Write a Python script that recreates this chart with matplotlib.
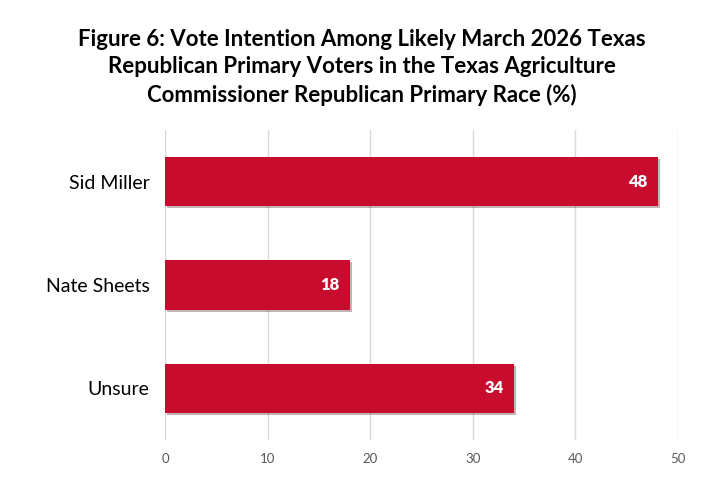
import matplotlib.pyplot as plt
import matplotlib.patheffects as pe

# data
candidates = ['Sid Miller', 'Nate Sheets', 'Unsure']
shares = [48, 18, 34]
ticks = [0, 10, 20, 30, 40, 50]

title = ('Figure 6: Vote Intention Among Likely March 2026 Texas\n'
         'Republican Primary Voters in the Texas Agriculture\n'
         'Commissioner Republican Primary Race (%)')

plt.rcParams['font.family'] = ['Lato', 'DejaVu Sans']

fig = plt.figure(figsize=(7.23, 4.83), dpi=100)
ax = fig.add_axes([0.2282, 0.089, 0.7096, 0.642])

bars = ax.barh(candidates, shares, height=0.48, color='#C80C2E', zorder=3)
for b in bars:
    b.set_path_effects([pe.SimplePatchShadow(offset=(1.5, -1.5), alpha=0.3), pe.Normal()])

for b, v in zip(bars, shares):
    ax.text(v - 1.0, b.get_y() + b.get_height() / 2, str(v), ha='right', va='center',
            color='white', fontsize=12, fontweight='heavy', zorder=4)

ax.set_ylim(2.5, -0.5)
ax.set_xlim(0, 50)
ax.set_xticks(ticks)
ax.grid(axis='x', color='#d9d9d9', linewidth=1, zorder=0)
for s in ax.spines.values():
    s.set_visible(False)
ax.tick_params(axis='x', length=0, labelsize=9.5, labelcolor='#595959', pad=9)
ax.tick_params(axis='y', length=0, labelsize=14, pad=11)

fig.suptitle(title, fontsize=16, fontweight='bold', y=0.94, linespacing=1.38)

fig.savefig('out.png', dpi=100)
